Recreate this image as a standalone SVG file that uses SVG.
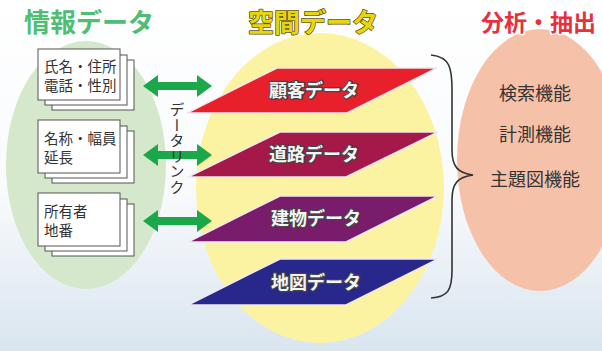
<svg xmlns="http://www.w3.org/2000/svg" width="602" height="351" viewBox="0 0 602 351">
<defs>
<linearGradient id="bg" x1="0" y1="0" x2="0" y2="1">
<stop offset="0" stop-color="#ffffff"/>
<stop offset="0.55" stop-color="#f8fafc"/>
<stop offset="1" stop-color="#d9e5ef"/>
</linearGradient>
<style>
.jp{font-family:"Noto Sans CJK JP","Noto Sans CJK SC",sans-serif;}
.title{font-size:26px;font-weight:bold;stroke-width:3px;paint-order:stroke;stroke-linejoin:round;}
.card{fill:#ffffff;stroke:#555;stroke-width:1;}
.ctext{font-size:14.5px;fill:#333;}
.plabel{font-size:18px;font-weight:bold;fill:#f4f4f4;stroke:#444;stroke-width:2.5px;paint-order:stroke;stroke-linejoin:round;text-anchor:middle;}
.para{stroke:#f0e8f0;stroke-width:1.5;}
.arrow{fill:#1aa84a;}
.func{font-size:18px;fill:#333;text-anchor:middle;}
</style>
</defs>
<rect width="602" height="351" fill="url(#bg)"/>

<g id="ellipses">
<ellipse cx="86" cy="165" rx="80" ry="124" fill="#d5e8cb"/>
<ellipse cx="320" cy="188" rx="124" ry="155" fill="#fbf3a2"/>
<ellipse cx="540" cy="160" rx="83" ry="131" fill="#f6c1a9"/>
</g>

<g id="titles" class="jp">
<text x="24" y="32" class="title" fill="#4fbd73" stroke="#ffffff">情報データ</text>
<text x="248" y="32" class="title" fill="#e8d60a" stroke="#5a5220" style="stroke-width:1.5px">空間データ</text>
<text x="481" y="31" class="title" fill="#e8303c" stroke="#ffffff" style="font-size:23px">分析・抽出</text>
</g>

<g id="card-1" class="jp">
<rect x="52" y="60" width="82" height="50" class="card"/>
<rect x="45" y="55" width="82" height="50" class="card"/>
<rect x="38" y="49" width="82" height="51" class="card"/>
<text x="44" y="72" class="ctext">氏名・住所</text>
<text x="44" y="91" class="ctext">電話・性別</text>
</g>
<g id="card-2" class="jp">
<rect x="52" y="131" width="82" height="52" class="card"/>
<rect x="45" y="126" width="82" height="52" class="card"/>
<rect x="38" y="120" width="82" height="53" class="card"/>
<text x="44" y="144" class="ctext">名称・幅員</text>
<text x="44" y="163" class="ctext">延長</text>
</g>
<g id="card-3" class="jp">
<rect x="52" y="204" width="82" height="52" class="card"/>
<rect x="45" y="199" width="82" height="52" class="card"/>
<rect x="38" y="193" width="82" height="53" class="card"/>
<text x="44" y="217" class="ctext">所有者</text>
<text x="44" y="236" class="ctext">地番</text>
</g>

<g id="connectors">
<polygon class="arrow" points="143,86 158,75 158,82 197,82 197,75 212,86 197,97 197,90 158,90 158,97"/>
<polygon class="arrow" points="143,155 158,144 158,151 197,151 197,144 212,155 197,166 197,159 158,159 158,166"/>
<polygon class="arrow" points="143,221 158,210 158,217 197,217 197,210 212,221 197,232 197,225 158,225 158,232"/>
<path d="M431,55 C450,57 452,68 452,90 L452,150 C452,167 458,173 473,175 C458,177 452,183 452,200 L452,270 C452,290 448,297 431,298" fill="none" stroke="#333" stroke-width="1.6"/>
</g>

<g id="link-label" class="jp">
<text x="177" y="102" style="writing-mode:vertical-rl;font-size:15px;fill:#333;letter-spacing:0.5px">データリンク</text>
</g>

<g id="layer-customer" class="jp">
<polygon class="para" points="277,68 437,68 347,113 187,113" fill="#e8202c"/>
<text x="314" y="97" class="plabel">顧客データ</text>
</g>
<g id="layer-road" class="jp">
<polygon class="para" points="280,132 438,132 346,177 188,177" fill="#a5184a"/>
<text x="314" y="161" class="plabel">道路データ</text>
</g>
<g id="layer-building" class="jp">
<polygon class="para" points="280,196 438,196 346,242 188,242" fill="#7a1c6c"/>
<text x="316" y="225" class="plabel">建物データ</text>
</g>
<g id="layer-map" class="jp">
<polygon class="para" points="280,259 438,259 346,305 188,305" fill="#28288c"/>
<text x="316" y="289" class="plabel">地図データ</text>
</g>

<g id="functions" class="jp">
<text x="535" y="100" class="func">検索機能</text>
<text x="535" y="141" class="func">計測機能</text>
<text x="535" y="186" class="func">主題図機能</text>
</g>
</svg>
